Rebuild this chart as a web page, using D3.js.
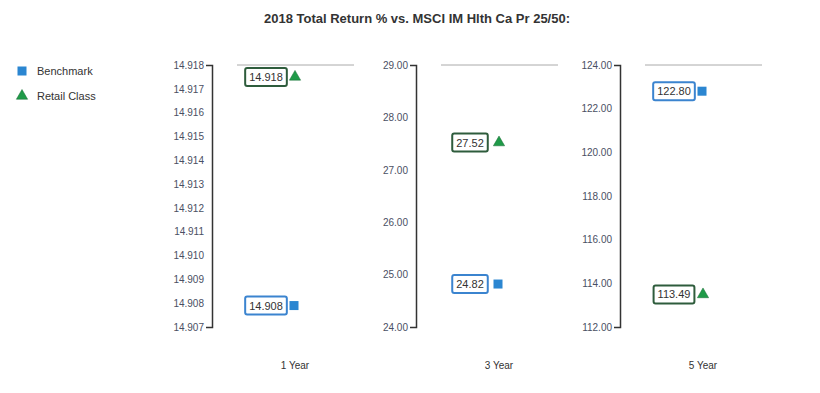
<html lang="en">
<head>
<meta charset="UTF-8">
<script src="https://d3js.org/d3.v7.min.js"></script>
<style>
body { margin: 0; background: #fff; }
svg { font-family: "Liberation Sans", Arial, sans-serif; }
</style>
</head>
<body>
<svg id="canvas" width="820" height="393"></svg>
<script>
// data
let categories = ['1 Year', '3 Year', '5 Year'];
let benchmark = [14.9079, 24.82, 122.80];
let retail = [14.9175, 27.52, 113.49];
let axisMin = [14.907, 24, 112];
let axisMax = [14.918, 29, 124];
let axisStep = [0.001, 1, 2];
let decimals = [3, 2, 2];
let seriesNames = ['Benchmark', 'Retail Class'];

let blue = '#2b86d1';
let green = '#1f9a48';
let canvas = d3.select('#canvas');

canvas.append('text')
    .attr('x', 417).attr('y', 23)
    .attr('text-anchor', 'middle')
    .attr('font-size', 13).attr('font-weight', 'bold')
    .attr('fill', '#333')
    .text('2018 Total Return % vs. MSCI IM Hlth Ca Pr 25/50:');

// legend
let legend = canvas.append('g').attr('transform', 'translate(22,71)');
seriesNames.forEach((name, i) => {
    let g = legend.append('g').attr('transform', 'translate(0,' + (i * 25) + ')');
    if (i === 0) {
        g.append('rect').attr('x', -4.5).attr('y', -4.5).attr('width', 9).attr('height', 9).attr('fill', blue);
    } else {
        g.append('path').attr('d', d3.symbol(d3.symbolTriangle, 55)()).attr('fill', green).attr('stroke', '#176b33').attr('stroke-width', 0.5);
    }
    g.append('text').attr('x', 15).attr('y', 4).attr('font-size', 11).attr('fill', '#333').text(name);
});

let xBand = d3.scaleBand().domain(categories).range([193, 805]);
let plotTop = 65, plotBottom = 327;

categories.forEach((cat, i) => {
    let x0 = xBand(cat);
    let y = d3.scaleLinear().domain([axisMin[i], axisMax[i]]).range([plotBottom, plotTop]);
    let n = Math.round((axisMax[i] - axisMin[i]) / axisStep[i]);
    let ticks = d3.range(0, n + 1).map(k => axisMin[i] + k * axisStep[i]);

    let panel = canvas.append('g');

    // grey reference line at the top
    panel.append('line')
        .attr('x1', x0 + 44).attr('x2', x0 + 161)
        .attr('y1', plotTop).attr('y2', plotTop)
        .attr('stroke', '#aaa').attr('stroke-width', 1);

    let axis = d3.axisLeft(y)
        .tickValues(ticks)
        .tickFormat(d => d.toFixed(decimals[i]))
        .tickSizeInner(0)
        .tickSizeOuter(6)
        .tickPadding(8);

    let ag = panel.append('g')
        .attr('transform', 'translate(' + (x0 + 19) + ',0)')
        .call(axis);
    ag.select('.domain').attr('stroke', '#333').attr('stroke-width', 1.5);
    ag.selectAll('text').attr('font-size', 10).attr('fill', '#4a4f63')
        .attr('font-family', '"Liberation Sans", Arial, sans-serif');

    // category label
    panel.append('text')
        .attr('x', x0 + xBand.bandwidth() / 2).attr('y', 369)
        .attr('text-anchor', 'middle')
        .attr('font-size', 10).attr('fill', '#333')
        .text(cat);

    // markers with labels
    [[benchmark[i], blue, '#3b84cf', 'square'], [retail[i], green, '#2e5c3c', 'triangle']].forEach(([v, fill, stroke, shape]) => {
        let cy = y(v);
        let g = panel.append('g').attr('transform', 'translate(0,' + cy + ')');
        let rect = g.append('rect');
        let txt = g.append('text')
            .attr('x', x0 + 73).attr('y', 4)
            .attr('text-anchor', 'middle')
            .attr('font-size', 11).attr('fill', '#333')
            .text(v.toFixed(decimals[i]));
        let bb = txt.node().getBBox();
        rect.attr('x', bb.x - 4).attr('y', -9)
            .attr('width', bb.width + 8).attr('height', 18)
            .attr('rx', 2)
            .attr('fill', '#fff').attr('stroke', stroke).attr('stroke-width', 2);
        if (shape === 'square') {
            g.append('rect').attr('x', x0 + 101 - 4.5).attr('y', -4.5)
                .attr('width', 9).attr('height', 9).attr('fill', fill);
        } else {
            g.append('path')
                .attr('transform', 'translate(' + (x0 + 102) + ',0)')
                .attr('d', d3.symbol(d3.symbolTriangle, 55)())
                .attr('fill', fill).attr('stroke', '#176b33').attr('stroke-width', 0.5);
        }
    });
});
</script>
</body>
</html>
